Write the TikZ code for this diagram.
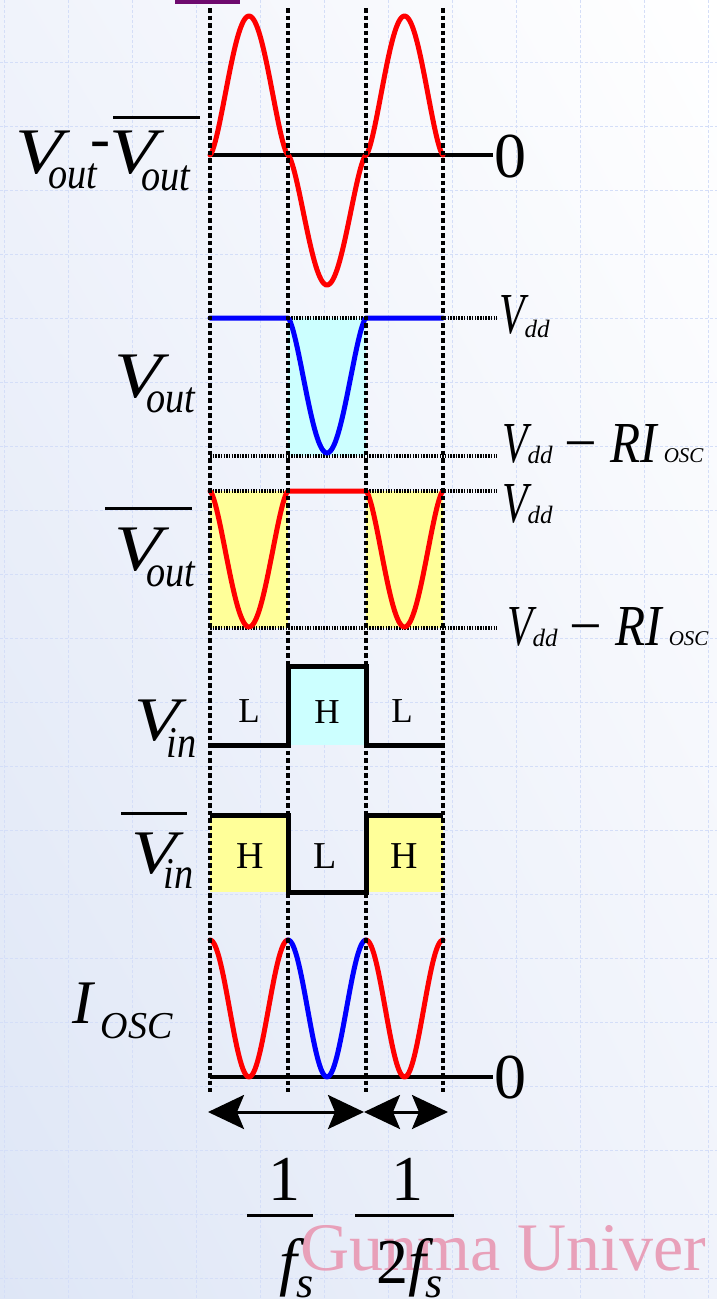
\documentclass[tikz,border=0pt]{standalone}
\usepackage{fontspec}
\setmainfont{Liberation Serif}
\usepackage{graphicx}
\usetikzlibrary{arrows.meta,shadings}
\newcommand\fsz[1]{\fontsize{#1}{#1}\selectfont}
\newcommand\bigV{\scalebox{1.2}[1]{V}}
\newcommand\lsub[2]{\raisebox{#1}{\scalebox{0.87}[1]{\fsz{44}#2}}}
\newcommand\narV{\scalebox{0.72}[1]{V}}
\definecolor{wred}{RGB}{255,0,0}
\definecolor{wblue}{RGB}{0,0,255}
\definecolor{fcyan}{RGB}{204,255,255}
\definecolor{fyellow}{RGB}{255,255,153}
\definecolor{gridc}{RGB}{212,222,248}
\definecolor{wmark}{RGB}{232,160,185}
\definecolor{ttl}{RGB}{110,10,110}
\definecolor{bgl}{RGB}{222,230,246}
\definecolor{bgm}{RGB}{240,243,251}
\tikzset{
  gridline/.style={gridc, line width=0.9pt, dash pattern=on 3pt off 2pt},
  vdot/.style={black, line width=3.7pt, dash pattern=on 4.5pt off 3pt},
  hdot/.style={black, line width=3.6pt, dash pattern=on 1.5pt off 1.2pt},
  baseln/.style={black, line width=3.2pt},
  wave/.style={line width=5pt, line join=round, line cap=round},
  sig/.style={black, line width=5pt, line join=miter},
  ovl/.style={black, line width=3pt},
  lab/.style={inner sep=0pt, outer sep=0pt, anchor=base west, font=\fsz{65}\itshape},
  rlab/.style={inner sep=0pt, outer sep=0pt, anchor=base west, font=\fsz{58}\itshape},
  lvl/.style={inner sep=0pt, outer sep=0pt, anchor=base, font=\fsz{35}},
  lvlb/.style={inner sep=0pt, outer sep=0pt, anchor=base, font=\fsz{38}},
  num/.style={inner sep=0pt, outer sep=0pt, font=\fsz{64}},
  dim/.style={black, line width=3pt, {Stealth[length=36pt,width=34pt,inset=7pt]}-{Stealth[length=36pt,width=34pt,inset=7pt]}}
}
\begin{document}
\begin{tikzpicture}[x=1pt,y=-1pt]
\useasboundingbox (0,0) rectangle (717,1299);
% background
\shade[upper left=bgm, upper right=white, lower left=bgl, lower right=bgm] (0,0) rectangle (717,1299);
\foreach \gx in {4,68,...,708} \draw[gridline] (\gx,0) -- (\gx,1299);
\foreach \gy in {62,126,...,1278} \draw[gridline] (0,\gy) -- (717,\gy);
\fill[ttl] (175,0) rectangle (240,4);
% fills
\fill[fcyan] (288,318) rectangle (366,456);
\fill[fyellow] (210,491) rectangle (288,628);
\fill[fyellow] (366,491) rectangle (443,628);
\fill[fcyan] (288,666) rectangle (366,745);
\fill[fyellow] (210,815) rectangle (288,892);
\fill[fyellow] (366,815) rectangle (443,892);
% level lines
\draw[hdot] (210,318) -- (497,318);
\draw[hdot] (210,456) -- (497,456);
\draw[hdot] (210,491) -- (497,491);
\draw[hdot] (210,628) -- (497,628);
\draw[baseln] (210,155) -- (493,155);
\draw[baseln] (210,1077) -- (493,1077);
% waveforms
\draw[wave,wred] plot[domain=210:288,samples=60] (\x,{155-139*abs(sin(180*(\x-210)/78))^1.5})
  -- plot[domain=288:366,samples=60] (\x,{155+130*abs(sin(180*(\x-288)/78))^1.5})
  -- plot[domain=366:443,samples=60] (\x,{155-139*abs(sin(180*(\x-366)/77))^1.5});
\draw[wave,wblue] (210,318) -- (288,318)
  -- plot[domain=288:366,samples=60] (\x,{318+135*abs(sin(180*(\x-288)/78))^1.5}) -- (443,318);
\draw[wave,wred] plot[domain=210:288,samples=60] (\x,{491+136*abs(sin(180*(\x-210)/78))^1.5})
  -- (366,491)
  -- plot[domain=366:443,samples=60] (\x,{491+136*abs(sin(180*(\x-366)/77))^1.5});
\draw[wave,wred] plot[domain=210:288,samples=60] (\x,{940+137*abs(sin(180*(\x-210)/78))^2});
\draw[wave,wblue] plot[domain=288:366,samples=60] (\x,{940+137*abs(sin(180*(\x-288)/78))^2});
\draw[wave,wred] plot[domain=366:443,samples=60] (\x,{940+137*abs(sin(180*(\x-366)/77))^2});
% digital signals
\draw[sig] (210,745) -- (288,745) -- (288,666) -- (366,666) -- (366,745) -- (443,745);
\draw[sig] (210,815) -- (288,815) -- (288,892) -- (366,892) -- (366,815) -- (443,815);
% vertical dotted lines
\foreach \vx in {210,288,366,443} \draw[vdot] (\vx,8) -- (\vx,1092);
% period arrows
\coordinate (d0) at (208,1112);
\coordinate (d1) at (364,1112);
\coordinate (d2) at (448,1112);
\draw[dim] (d0) -- (d1);
\draw[dim] (d1) -- (d2);
% left labels
\node[lab] (lA) at (16,173) {\bigV\kern-15pt\lsub{-15pt}{out}};
\node[inner sep=0pt, anchor=base, font=\fsz{60}] (lDash) at (100,158) {-};
\node[lab] (lB) at (109,173) {\bigV\kern-15pt\lsub{-17pt}{out}};
\draw[ovl] (113,117) -- (200,117);
\node[lab] (lVout) at (114,397) {\bigV\kern-15pt\lsub{-15pt}{out}};
\node[lab] (lVoutb) at (114,570) {\bigV\kern-15pt\lsub{-16pt}{out}};
\draw[ovl] (105,508) -- (192,508);
\node[lab, font=\fsz{62}\itshape] (lVin) at (134,740) {\bigV\kern-13pt\lsub{-17pt}{in}};
\node[lab, font=\fsz{62}\itshape] (lVinb) at (131,873) {\bigV\kern-13pt\lsub{-15pt}{in}};
\draw[ovl] (121,813) -- (187,813);
\node[lab, font=\fsz{62}\itshape] (lI) at (72,1023) {I\kern8pt\raisebox{-15pt}{\fsz{38}OSC}};
% right labels
\node[num, anchor=base west] (z1) at (494,177) {0};
\node[num, anchor=base west] (z2) at (494,1098) {0};
\node[rlab] (r1) at (499,333) {\narV\raisebox{-4pt}{\fsz{25}dd}};
\node[rlab] (r2) at (502,462) {\narV\raisebox{-1pt}{\fsz{25}dd}\hspace{12pt}{\upshape −}\hspace{13pt}\scalebox{0.85}[1]{RI}\hspace{7pt}{\fsz{21}OSC}};
\node[rlab] (r3) at (502,522) {\narV\raisebox{-1pt}{\fsz{25}dd}};
\node[rlab] (r4) at (507,645) {\narV\raisebox{-1pt}{\fsz{25}dd}\hspace{12pt}{\upshape −}\hspace{13pt}\scalebox{0.85}[1]{RI}\hspace{7pt}{\fsz{21}OSC}};
% H/L labels
\node[lvl] (h1) at (249,722) {L};
\node[lvl] (h2) at (327,723) {H};
\node[lvl] (h3) at (402,722) {L};
\node[lvlb] (h4) at (250,868) {H};
\node[lvlb] (h5) at (325,868) {L};
\node[lvlb] (h6) at (404,868) {H};
% watermark
\node[inner sep=0pt, anchor=base west, font=\fsz{68}, text=wmark] (wm) at (300,1270) {Gunma Univer};
% fractions
\node[num, anchor=base] (n1) at (284,1200) {1};
\draw[ovl] (247,1215) -- (313,1215);
\node[num, anchor=base west, font=\fsz{64}\itshape] (f1) at (279,1283) {f\raisebox{-14pt}{\fsz{44}s}};
\node[num, anchor=base] (n2) at (407,1200) {1};
\draw[ovl] (355,1215) -- (454,1215);
\node[num, anchor=base west] (f2) at (376,1283) {2\textit{f\raisebox{-14pt}{\fsz{44}s}}};
\end{tikzpicture}
\end{document}
